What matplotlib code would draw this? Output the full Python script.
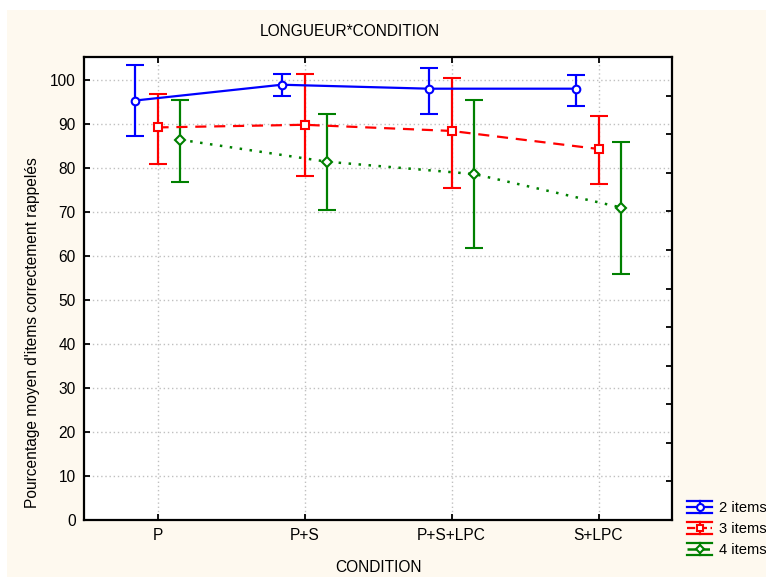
import matplotlib
matplotlib.use("Agg")
import matplotlib.pyplot as plt
import numpy as np
from matplotlib.patches import Rectangle
from matplotlib.lines import Line2D
from matplotlib.legend_handler import HandlerBase

plt.rcParams['font.family'] = ['Liberation Sans', 'DejaVu Sans']

conditions = ["P", "P+S", "P+S+LPC", "S+LPC"]
series_names = ["2 items", "3 items", "4 items"]

mean_2 = [95.3, 98.9, 98.0, 98.0]
upper_2 = [103.3, 101.4, 102.7, 101.0]
lower_2 = [87.3, 96.4, 92.3, 94.1]

mean_3 = [89.2, 89.8, 88.4, 84.3]
upper_3 = [96.9, 101.4, 100.5, 91.8]
lower_3 = [80.9, 78.2, 75.5, 76.4]

mean_4 = [86.4, 81.4, 78.6, 71.0]
upper_4 = [95.5, 92.3, 95.5, 86.0]
lower_4 = [76.8, 70.5, 61.9, 56.0]

title = "LONGUEUR*CONDITION"
xlabel = "CONDITION"
ylabel = "Pourcentage moyen d'items correctement rappelés"
yticks = [0, 10, 20, 30, 40, 50, 60, 70, 80, 90, 100]

FS = 11.2

fig = plt.figure(figsize=(7.66, 5.79), dpi=100)
fig.patch.set_facecolor("white")
fig.patches.append(Rectangle((7/766, 2/579), 1 - 7/766, 1 - 12/579,
                             transform=fig.transFigure, facecolor="#FEF9EF",
                             edgecolor="none", zorder=-10))

ax = fig.add_axes([84/766, 59/579, 588/766, 463/579])
ax.set_facecolor("white")

x = np.arange(len(conditions))
styles = [
    dict(color="#0000FF", ls="-", marker="o", ms=5.5, lw=1.6),
    dict(color="#FF0000", ls=(0, (5, 3.5)), marker="s", ms=5.5, lw=1.6),
    dict(color="#008000", ls=(0, (1, 3)), marker="D", ms=5, lw=1.8),
]
data = [(mean_2, upper_2, lower_2), (mean_3, upper_3, lower_3), (mean_4, upper_4, lower_4)]
offsets = [-0.155, 0.0, 0.155]

proxies = []
for (m, u, l), st, off, name in zip(data, styles, offsets, series_names):
    m = np.array(m); u = np.array(u); l = np.array(l)
    ax.errorbar(x + off, m, yerr=[m - l, u - m], color=st["color"],
                ls=st["ls"], lw=st["lw"], marker=st["marker"], ms=st["ms"],
                mfc="white", mec=st["color"], mew=1.5,
                elinewidth=1.6, capsize=6.5, capthick=1.6, zorder=3)
    proxies.append(Line2D([], [], color=st["color"], ls=st["ls"], lw=st["lw"],
                          marker=st["marker"], ms=st["ms"] - 0.5, mfc="white",
                          mec=st["color"], mew=1.5))


class ErrGlyph(HandlerBase):
    def create_artists(self, legend, orig, xdescent, ydescent, width, height,
                       fontsize, trans):
        c = orig.get_color()
        x0, x1 = -xdescent, -xdescent + width
        yc = -ydescent + height / 2
        h = height * 0.5
        xm = (x0 + x1) / 2
        arts = []
        arts.append(Line2D([x0, x1], [yc, yc], color=c, ls=orig.get_linestyle(),
                           lw=orig.get_linewidth()))
        arts.append(Line2D([xm, xm], [yc - h, yc + h], color=c, lw=1.6))
        arts.append(Line2D([x0, x1], [yc + h, yc + h], color=c, lw=1.6))
        arts.append(Line2D([x0, x1], [yc - h, yc - h], color=c, lw=1.6))
        arts.append(Line2D([xm], [yc], ls="none", marker=orig.get_marker(),
                           ms=orig.get_markersize(), mfc="white", mec=c,
                           mew=1.5))
        for a in arts:
            a.set_transform(trans)
        return arts


ax.set_xlim(-0.5, 3.5)
ax.set_ylim(0, 105.2)
ax.set_xticks(x)
ax.set_xticklabels(conditions)
ax.set_yticks(yticks)
ax.grid(True, color="#C0C0C0", ls=(0, (1, 2)), lw=1.0, zorder=0)
ax.set_axisbelow(True)
for s in ax.spines.values():
    s.set_linewidth(1.6)
    s.set_color("black")
ax.tick_params(direction="in", length=4, width=1.3, labelsize=FS,
               top=True, right=False, pad=6)

ax2 = ax.twinx()
ax2.set_ylim(0, 12)
ax2.set_yticks(np.arange(1, 12))
ax2.set_yticklabels([])
ax2.tick_params(direction="in", length=4, width=1.3)
for s in ax2.spines.values():
    s.set_visible(False)

fig.text(350/766, 1 - 32/579, title, ha="center", va="center", fontsize=FS)
fig.text(378/766, 1 - 568/579, xlabel, ha="center", va="center", fontsize=FS)
fig.text(33/766, 1 - 333/579, ylabel, ha="center", va="center",
         rotation=90, fontsize=FS)

leg = fig.legend(handles=proxies, labels=series_names, loc="upper left",
                 bbox_to_anchor=(687/766, 1 - 501/579), frameon=False,
                 fontsize=10.6, handlelength=1.7, handleheight=0.8,
                 handletextpad=0.45, labelspacing=0.48, borderaxespad=0,
                 borderpad=0, handler_map={Line2D: ErrGlyph()})

fig.savefig("out.png", dpi=100, facecolor=fig.get_facecolor())
